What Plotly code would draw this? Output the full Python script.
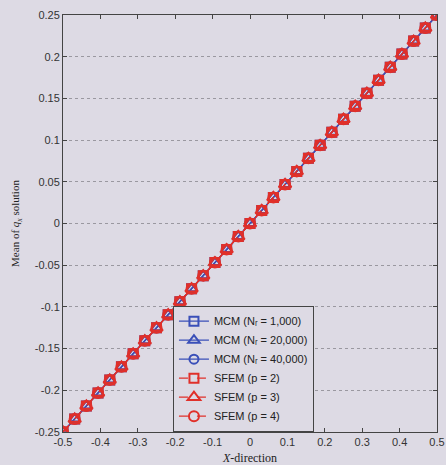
import plotly.graph_objects as go

x_pos = [-0.5, -0.46875, -0.4375, -0.40625, -0.375, -0.34375, -0.3125, -0.28125,
         -0.25, -0.21875, -0.1875, -0.15625, -0.125, -0.09375, -0.0625, -0.03125,
         0.0, 0.03125, 0.0625, 0.09375, 0.125, 0.15625, 0.1875, 0.21875,
         0.25, 0.28125, 0.3125, 0.34375, 0.375, 0.40625, 0.4375, 0.46875, 0.5]
mean_q = [-0.25, -0.2344, -0.2188, -0.2031, -0.1875, -0.1719, -0.1563, -0.1406,
          -0.125, -0.1094, -0.0938, -0.0781, -0.0625, -0.0469, -0.0313, -0.0156,
          0.0, 0.0156, 0.0313, 0.0469, 0.0625, 0.0781, 0.0938, 0.1094,
          0.125, 0.1406, 0.1563, 0.1719, 0.1875, 0.2031, 0.2188, 0.2344, 0.25]

series_names = ["MCM (Nᵣ = 1,000)", "MCM (Nᵣ = 20,000)",
                "MCM (Nᵣ = 40,000)", "SFEM (p = 2)", "SFEM (p = 3)", "SFEM (p = 4)"]
series_symbols = ["square-open", "triangle-up-open", "circle-open",
                  "square-open", "triangle-up-open", "circle-open"]
series_colors = ["#3a4fb8", "#3a4fb8", "#3a4fb8", "#e0302a", "#e0302a", "#e0302a"]
series_dash = ["solid", "solid", "solid", "dash", "dash", "dash"]
series_sizes = [9, 10, 9, 9, 11, 10]

x_ticks = [-0.5, -0.4, -0.3, -0.2, -0.1, 0, 0.1, 0.2, 0.3, 0.4, 0.5]
x_ticktext = ["-0.5", "-0.4", "-0.3", "-0.2", "-0.1", "0", "0.1", "0.2", "0.3", "0.4", "0.5"]
y_ticks = [-0.25, -0.2, -0.15, -0.1, -0.05, 0, 0.05, 0.1, 0.15, 0.2, 0.25]
y_ticktext = ["-0.25", "-0.2", "-0.15", "-0.1", "-0.05", "0", "0.05", "0.1", "0.15", "0.2", "0.25"]

bg = "#dddae4"
fig = go.Figure()
for name, sym, col, dash, sz in zip(series_names, series_symbols, series_colors, series_dash, series_sizes):
    fig.add_trace(go.Scatter(
        x=x_pos, y=mean_q, name=name, mode="lines+markers",
        line=dict(color=col, width=1.2, dash=dash),
        marker=dict(symbol=sym, size=sz, color=col, line=dict(color=col, width=2)),
    ))

axis_common = dict(
    showline=True, linecolor="#444", linewidth=1, mirror="ticks",
    ticks="inside", ticklen=4, tickcolor="#444",
    gridcolor="#9a98a0", griddash="dot", gridwidth=1,
    zeroline=False, automargin=False,
    tickfont=dict(family="Liberation Sans, Arial", size=11, color="#333"),
)
fig.update_xaxes(range=[-0.5, 0.5], tickvals=x_ticks, ticktext=x_ticktext, showgrid=False,
                 title=dict(text="<i>X</i>-direction", standoff=8,
                            font=dict(family="Liberation Serif, Times New Roman", size=12, color="#222")),
                 **axis_common)
fig.update_yaxes(range=[-0.25, 0.25], tickvals=y_ticks, ticktext=y_ticktext, showgrid=True,
                 title=dict(text="Mean of <i>q<sub>x</sub></i> solution", standoff=12,
                            font=dict(family="Liberation Serif, Times New Roman", size=11, color="#222")),
                 **axis_common)
fig.update_layout(
    width=446, height=465,
    margin=dict(l=63, r=9, t=15, b=33),
    paper_bgcolor=bg, plot_bgcolor=bg,
    showlegend=True,
    legend=dict(x=0.294, y=0.303, xanchor="left", yanchor="top",
                bgcolor=bg, bordercolor="#444", borderwidth=1,
                font=dict(family="Liberation Sans, DejaVu Sans, Arial", size=11, color="#222"),
                tracegroupgap=0, itemwidth=30),
)
fig.write_html("out.html")
